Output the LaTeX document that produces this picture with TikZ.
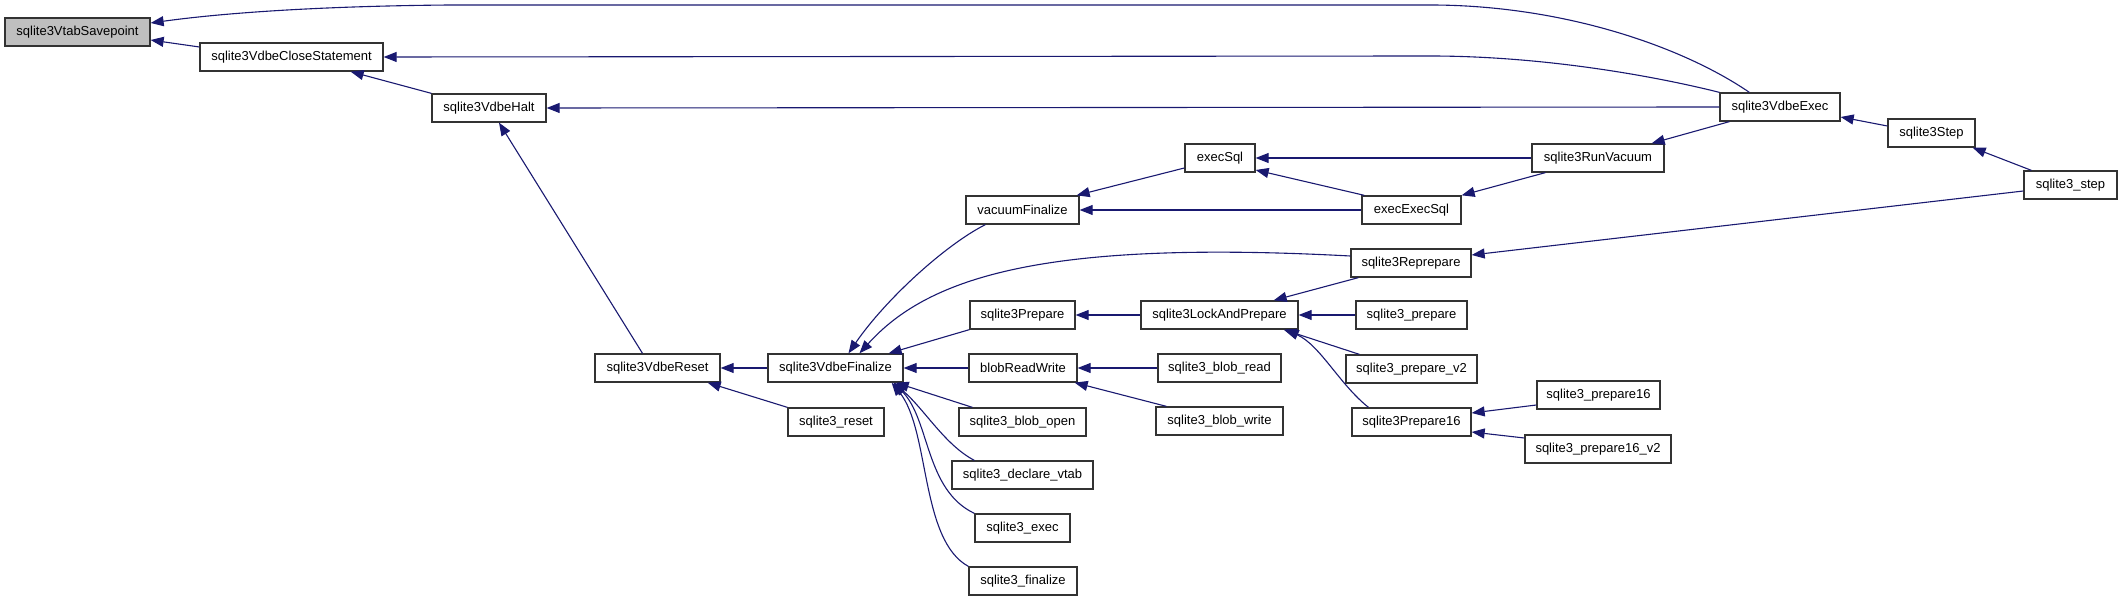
\documentclass[tikz,border=0pt]{standalone}
\usepackage{fontspec}
\setmainfont{Liberation Sans}
\usetikzlibrary{arrows.meta}
\definecolor{callblue}{HTML}{191970}
\definecolor{rootgray}{HTML}{BFBFBF}
\begin{document}
\begin{tikzpicture}[x=1pt,y=-1pt,
    fn/.style={draw=black!80, line width=1.3pt, fill=white, rectangle,
      minimum height=28pt, inner sep=0pt, font=\fontsize{13}{15}\selectfont},
    call/.style={draw=callblue, line width=1.1pt, -{Triangle[length=13pt,width=10pt]}}]
    \useasboundingbox (0,0) rectangle (2123,601);
    % Functions
    \node[fn, fill=rootgray, minimum width=145pt] (savepoint) at (77.5,32) {sqlite3VtabSavepoint};
    \node[fn, minimum width=183pt] (closestmt) at (291.5,57) {sqlite3VdbeCloseStatement};
    \node[fn, minimum width=114pt] (halt) at (489,108) {sqlite3VdbeHalt};
    \node[fn, minimum width=125pt] (reset) at (657.5,368) {sqlite3VdbeReset};
    \node[fn, minimum width=135pt] (finalize) at (835.5,368) {sqlite3VdbeFinalize};
    \node[fn, minimum width=96pt] (sqlreset) at (836,422) {sqlite3\_reset};
    \node[fn, minimum width=113pt] (vacfin) at (1022.5,210) {vacuumFinalize};
    \node[fn, minimum width=105pt] (prepare) at (1022.5,315) {sqlite3Prepare};
    \node[fn, minimum width=108pt] (blobrw) at (1023,368) {blobReadWrite};
    \node[fn, minimum width=127pt] (blobopen) at (1022.5,422) {sqlite3\_blob\_open};
    \node[fn, minimum width=141pt] (declvtab) at (1022.5,475) {sqlite3\_declare\_vtab};
    \node[fn, minimum width=95pt] (exec) at (1022.5,528) {sqlite3\_exec};
    \node[fn, minimum width=108pt] (sqlfinalize) at (1023,581) {sqlite3\_finalize};
    \node[fn, minimum width=70pt] (execsql) at (1220,158) {execSql};
    \node[fn, minimum width=157pt] (lockprep) at (1219.5,315) {sqlite3LockAndPrepare};
    \node[fn, minimum width=123pt] (blobread) at (1219.5,368) {sqlite3\_blob\_read};
    \node[fn, minimum width=127pt] (blobwrite) at (1219.5,421) {sqlite3\_blob\_write};
    \node[fn, minimum width=99pt] (execexec) at (1411.5,210) {execExecSql};
    \node[fn, minimum width=120pt] (reprepare) at (1411,263) {sqlite3Reprepare};
    \node[fn, minimum width=111pt] (sqlprepare) at (1411.5,315) {sqlite3\_prepare};
    \node[fn, minimum width=131pt] (preparev2) at (1411.5,369) {sqlite3\_prepare\_v2};
    \node[fn, minimum width=119pt] (prep16) at (1411.5,422) {sqlite3Prepare16};
    \node[fn, minimum width=123pt] (prepare16) at (1598.5,395) {sqlite3\_prepare16};
    \node[fn, minimum width=146pt] (prepare16v2) at (1598,449) {sqlite3\_prepare16\_v2};
    \node[fn, minimum width=132pt] (runvac) at (1598,158) {sqlite3RunVacuum};
    \node[fn, minimum width=120pt] (vdbeexec) at (1780,107) {sqlite3VdbeExec};
    \node[fn, minimum width=87pt] (step) at (1931.5,133) {sqlite3Step};
    \node[fn, minimum width=93pt] (sqlstep) at (2070.5,185) {sqlite3\_step};
    % Calls
    \draw[call] ([xshift=30pt]vdbeexec.north west) .. controls (1680,45) and (1560,5) .. (1430,5)
      -- (450,5) .. controls (330,6) and (230,12) .. ([yshift=9pt]savepoint.east);
    \draw[call] ([yshift=10pt]closestmt.west) -- ([yshift=-8pt]savepoint.east);
    \draw[call] (vdbeexec.north west) .. controls (1650,75) and (1540,56) .. (1430,56) -- (closestmt.east);
    \draw[call] (halt.north west) -- ([xshift=-33pt]closestmt.south east);
    \draw[call] (vdbeexec.west) -- (halt.east);
    \draw[call] ([xshift=-15pt]reset.north) -- ([xshift=10pt]halt.south);
    \draw[call] (finalize.west) -- (reset.east);
    \draw[call] (sqlreset.north west) -- ([xshift=-13pt]reset.south east);
    \draw[call] ([xshift=20pt]vacfin.south west) .. controls (945,245) and (885,300) .. ([xshift=13pt]finalize.north);
    \draw[call] ([yshift=7pt]reprepare.west) .. controls (1050,240) and (930,275) .. ([xshift=24pt]finalize.north);
    \draw[call] (prepare.south west) -- ([xshift=-15pt]finalize.north east);
    \draw[call] (blobrw.west) -- (finalize.east);
    \draw[call] ([xshift=14pt]blobopen.north west) -- ([xshift=-8pt]finalize.south east);
    \draw[call] ([xshift=23pt]declvtab.north west) .. controls (945,445) and (925,410) .. ([xshift=-10pt]finalize.south east);
    \draw[call] (exec.north west) .. controls (925,490) and (930,420) .. ([xshift=-10pt]finalize.south east);
    \draw[call] (sqlfinalize.north west) .. controls (920,540) and (930,430) .. ([xshift=-12pt]finalize.south east);
    \draw[call] ([yshift=-10pt]execsql.west) -- ([xshift=-3pt]vacfin.north east);
    \draw[call] (execexec.west) -- (vacfin.east);
    \draw[call] (runvac.west) -- (execsql.east);
    \draw[call] ([xshift=3pt]execexec.north west) -- ([yshift=-12pt]execsql.east);
    \draw[call] ([xshift=14pt]runvac.south west) -- (execexec.north east);
    \draw[call] ([xshift=10pt]vdbeexec.south west) -- ([xshift=-13pt]runvac.north east);
    \draw[call] ([yshift=7pt]step.west) -- ([yshift=-10pt]vdbeexec.east);
    \draw[call] ([xshift=8pt]sqlstep.north west) -- ([xshift=-3pt]step.south east);
    \draw[call] ([yshift=-6pt]sqlstep.west) -- ([yshift=8pt]reprepare.east);
    \draw[call] (lockprep.west) -- (prepare.east);
    \draw[call] ([xshift=8pt]reprepare.south west) -- ([xshift=-25pt]lockprep.north east);
    \draw[call] (sqlprepare.west) -- (lockprep.east);
    \draw[call] ([xshift=14pt]preparev2.north west) -- ([xshift=-15pt]lockprep.south east);
    \draw[call] ([xshift=-43pt]prep16.north) .. controls (1340,385) and (1320,345) .. ([xshift=-13pt]lockprep.south east);
    \draw[call] (blobread.west) -- (blobrw.east);
    \draw[call] ([xshift=11pt]blobwrite.north west) -- ([xshift=-3pt]blobrw.south east);
    \draw[call] ([yshift=-10pt]prepare16.west) -- ([yshift=9pt]prep16.east);
    \draw[call] ([yshift=11pt]prepare16v2.west) -- ([yshift=-10pt]prep16.east);
\end{tikzpicture}
\end{document}
